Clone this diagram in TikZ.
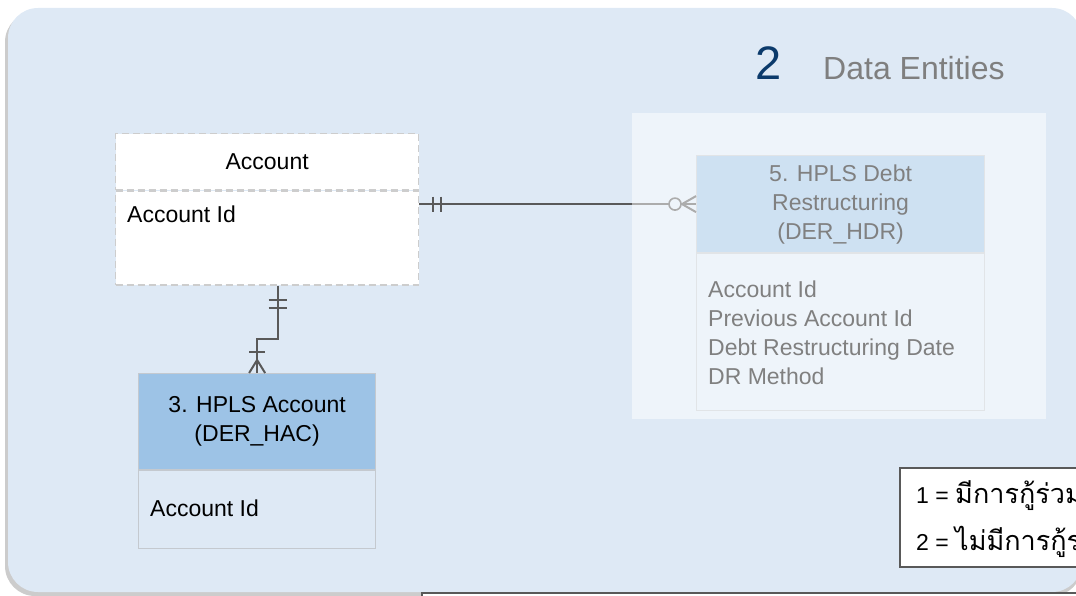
\documentclass[tikz,border=0pt]{standalone}
\usepackage{fontspec}
\setmainfont{Liberation Sans}
\newfontfamily\thaifont[Script=Thai]{Loma}
\usetikzlibrary{calc}
\definecolor{bgblue}{HTML}{DEE9F5}
\definecolor{headblue}{HTML}{9DC3E6}
\definecolor{linkgray}{HTML}{595959}
\definecolor{edgegray}{HTML}{C4C9CF}
\definecolor{dashgray}{HTML}{CDCDCD}
\definecolor{navy}{HTML}{0B3A6B}
\definecolor{titlegray}{HTML}{7F7F7F}
\pgfkeys{
  /entity/.cd,
  width/.initial=240,
  head height/.initial=60,
  body height/.initial=80,
  position/.initial={0,0},
  head fill/.initial=white,
  body fill/.initial=white,
  border/.initial={plain part},
  title/.initial={},
  fields/.initial={},
  fields drop/.initial=30
}
\newcommand{\erentity}[2][]{
    {
        \pgfkeys{/entity/.cd,#1}
        \pgfkeys{/entity/width/.get=\erwidth}
        \pgfkeys{/entity/head height/.get=\erheadheight}
        \pgfkeys{/entity/body height/.get=\erbodyheight}
        \pgfkeys{/entity/position/.get=\erposition}
        \pgfkeys{/entity/head fill/.get=\erheadfill}
        \pgfkeys{/entity/body fill/.get=\erbodyfill}
        \pgfkeys{/entity/border/.get=\erborder}
        \pgfkeys{/entity/title/.get=\ertitle}
        \pgfkeys{/entity/fields/.get=\erfields}
        \pgfkeys{/entity/fields drop/.get=\erdrop}
        \node[part,\erborder,fill=\erheadfill,minimum width=\erwidth,minimum height=\erheadheight] (#2-head) at (\erposition) {};
        \node[part,\erborder,fill=\erbodyfill,minimum width=\erwidth,minimum height=\erbodyheight] (#2-body) at (#2-head.south west) {};
        \node[title text] (#2-title) at (#2-head.center) {\ertitle};
        \node[field text] (#2-fields) at ($ (#2-body.north west) + (12,\erdrop) $) {\erfields};
    }
}

\begin{document}
\begin{tikzpicture}[x=1pt,y=-1pt,
    part/.style={inner sep=0pt,anchor=north west},
    plain part/.style={draw=edgegray,line width=1.2pt},
    dashed part/.style={draw=dashgray,line width=1.3pt,dash pattern=on 7pt off 4pt},
    title text/.style={align=center,inner sep=0pt,font=\fontsize{23}{29}\selectfont},
    field text/.style={align=left,inner sep=0pt,anchor=north west,font=\fontsize{23}{29}\selectfont},
    link/.style={draw=linkgray,line width=2pt},
    tick/.style={draw=linkgray,line width=2pt},
    legend box/.style={draw=linkgray,line width=1.5pt,fill=white,anchor=north west,minimum width=280,minimum height=99},
    legend text/.style={anchor=base west,inner sep=0pt,font=\fontsize{23}{29}\selectfont}]
    \useasboundingbox (0,0) rectangle (1076,596);

    % background panel
    \fill[gray!40,rounded corners=30] (5,12) rectangle (1082,596);
    \fill[bgblue,rounded corners=30] (8,8) rectangle (1082,592);
    \draw[draw=linkgray,line width=1.5pt,fill=white] (422,593) rectangle (1200,640);

    % entities
    \erentity[position={115,133},width=303,head height=56,body height=94,
        border=dashed part,title=Account,fields=Account Id,fields drop=15.5]{acc}
    \erentity[position={138,373},width=237,head height=96,body height=78,
        head fill=headblue,body fill=bgblue,title={3. HPLS Account\\(DER\_HAC)},
        fields=Account Id,fields drop=29.5]{hac}
    \erentity[position={696,155},width=288,head height=97,body height=157,
        head fill=headblue,body fill=bgblue,title={5. HPLS Debt\\Restructuring\\(DER\_HDR)},
        fields={Account Id\\Previous Account Id\\Debt Restructuring Date\\DR Method},
        fields drop=27.5]{hdr}

    % relations
    \coordinate (a1) at (acc-body.east |- hdr-head.west);
    \draw[link] (a1) -- (hdr-head.west);
    \foreach \dx in {14,22} {
        \draw[tick] ($ (a1) + (\dx,-7.5) $) -- ++(0,15);
    }
    \draw[tick,line width=1.6pt,fill=bgblue] ($ (hdr-head.west) + (-21,0) $) circle (6);
    \draw[tick] ($ (hdr-head.west) + (-14,0) $) -- ($ (hdr-head.west) + (0,-8) $)
        ($ (hdr-head.west) + (-14,0) $) -- ($ (hdr-head.west) + (0,8) $);

    \coordinate (b1) at ($ (acc-body.south) + (10.5,0) $);
    \draw[link] (b1) -- ++(0,53) -| (hac-head.north);
    \foreach \dy in {14,22} {
        \draw[tick] ($ (b1) + (-9,\dy) $) -- ++(18,0);
    }
    \draw[tick] ($ (hac-head.north) + (-8,-21) $) -- ++(16,0);
    \draw[tick] ($ (hac-head.north) + (0,-13) $) -- ($ (hac-head.north) + (-8,0) $)
        ($ (hac-head.north) + (0,-13) $) -- ($ (hac-head.north) + (8,0) $);

    % faded group
    \fill[white,opacity=0.5] (632,113) rectangle (1046,419);

    % heading
    \node[anchor=base west,inner sep=0pt,text=navy,font=\fontsize{47}{47}\selectfont] (num) at (755,80) {2};
    \node[anchor=base west,inner sep=0pt,text=titlegray,font=\fontsize{32}{32}\selectfont] (heading) at (823,80) {Data Entities};

    % legend
    \node[legend box] (legend) at (899,467) {};
    \node[legend text] (l1) at ($ (legend.north west) + (17,36) $) {1 = {\thaifont\fontsize{27}{29}\selectfont มีการกู้ร่วม}};
    \node[legend text] (l2) at ($ (legend.north west) + (17,83) $) {2 = {\thaifont\fontsize{27}{29}\selectfont ไม่มีการกู้ร่วม}};
\end{tikzpicture}
\end{document}
